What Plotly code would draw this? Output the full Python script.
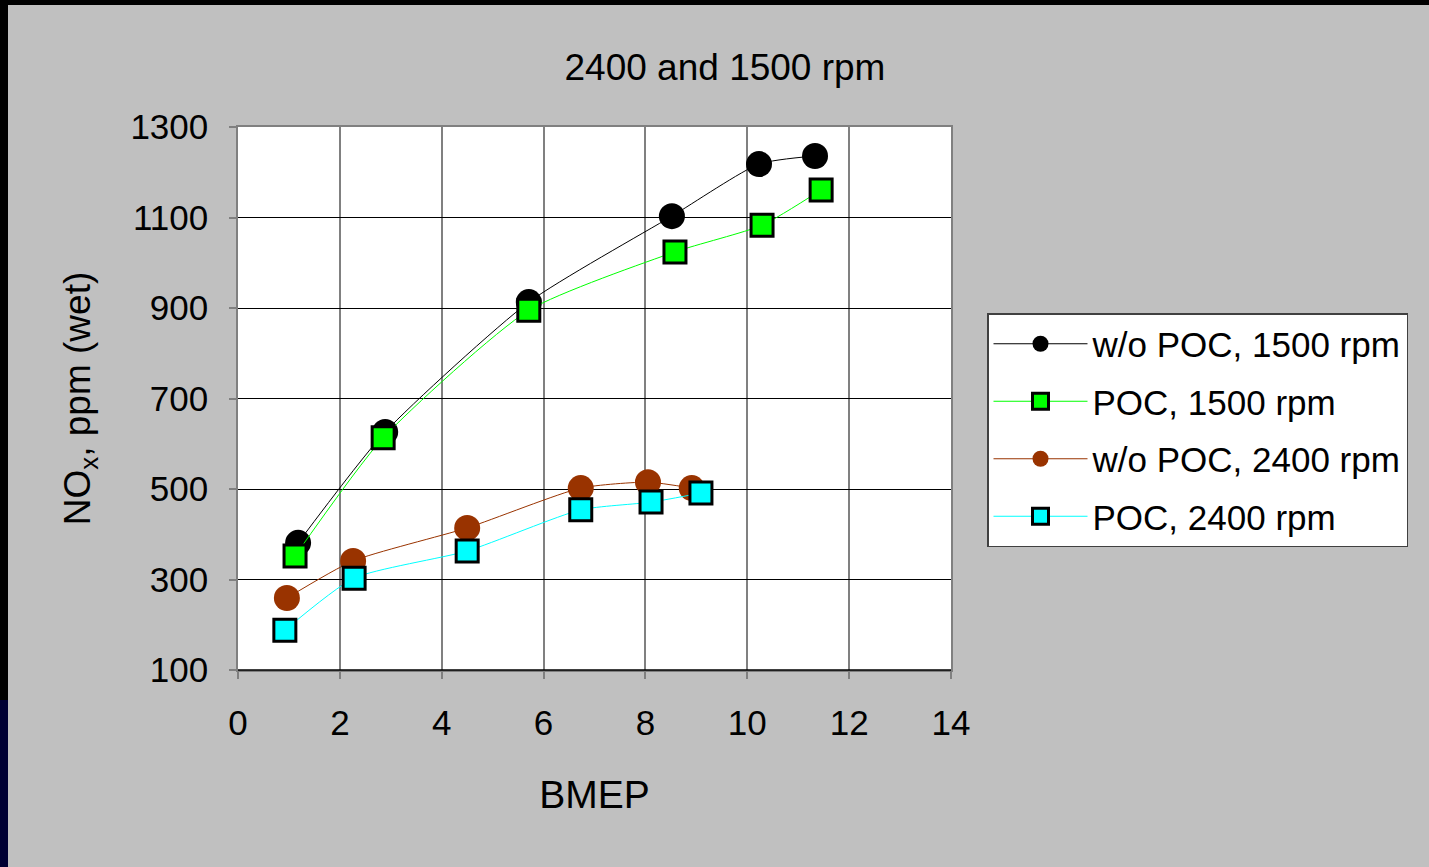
import plotly.graph_objects as go

# Data
x_wo_1500 = [1.18, 2.89, 5.71, 8.52, 10.23, 11.33]
y_wo_1500 = [381, 626, 913, 1103, 1218, 1236]

x_poc_1500 = [1.12, 2.85, 5.71, 8.58, 10.29, 11.45]
y_poc_1500 = [352, 613, 895, 1024, 1083, 1161]

x_wo_2400 = [0.96, 2.26, 4.50, 6.73, 8.05, 8.91]
y_wo_2400 = [259, 341, 414, 502, 515, 502]

x_poc_2400 = [0.92, 2.28, 4.50, 6.73, 8.11, 9.09]
y_poc_2400 = [188, 303, 363, 454, 471, 491]

x_ticks = [0, 2, 4, 6, 8, 10, 12, 14]
y_ticks = [100, 300, 500, 700, 900, 1100, 1300]

FONT = "Liberation Sans, Arial, sans-serif"

fig = go.Figure()

def add(name, xs, ys, color, symbol, size, mline, group):
    fig.add_trace(go.Scatter(
        x=xs, y=ys, name=name, mode="lines+markers",
        legendgroup=group,
        line=dict(color=color, width=1, shape="spline", smoothing=0.6),
        marker=dict(color=color, symbol=symbol, size=size,
                    line=dict(color="black", width=mline)),
    ))

add("w/o POC, 1500 rpm", x_wo_1500, y_wo_1500, "#000000", "circle", 26, 0, "a")
add("POC, 1500 rpm", x_poc_1500, y_poc_1500, "#00FF00", "square", 22, 3, "b")
add("w/o POC, 2400 rpm", x_wo_2400, y_wo_2400, "#993300", "circle", 26, 0, "c")
add("POC, 2400 rpm", x_poc_2400, y_poc_2400, "#00FFFF", "square", 22, 3, "d")

L, R, T, B = 238, 478, 127, 197
W, H = 1429, 867
pw, ph = W - L - R, H - T - B

def px(xp):
    return (xp - L) / pw

def py(yp):
    return (H - B - yp) / ph

shapes = [
    # dark frame strips
    dict(type="rect", xref="paper", yref="paper", x0=px(0), x1=px(8), y0=py(H), y1=py(0),
         fillcolor="black", line=dict(width=0), layer="above"),
    dict(type="rect", xref="paper", yref="paper", x0=px(0), x1=px(8), y0=py(H), y1=py(700),
         fillcolor="#000033", line=dict(width=0), layer="above"),
    dict(type="rect", xref="paper", yref="paper", x0=px(0), x1=px(W), y0=py(5), y1=py(0),
         fillcolor="black", line=dict(width=0), layer="above"),
    # bottom axis line in black
    dict(type="line", xref="paper", yref="paper", x0=0, x1=1, y0=0, y1=0,
         line=dict(color="black", width=1.5), layer="above"),
]

fig.update_layout(
    width=W, height=H,
    paper_bgcolor="#C0C0C0", plot_bgcolor="white",
    margin=dict(l=L, r=R, t=T, b=B, pad=0),
    font=dict(family=FONT, color="black", size=35),
    title=dict(text="2400 and 1500 rpm", x=725 / W, xanchor="center",
               y=1 - 67 / H, yanchor="middle",
               font=dict(size=37, family=FONT, color="black")),
    xaxis=dict(range=[0, 14], tickvals=x_ticks, showgrid=True, gridcolor="#808080",
               gridwidth=1.5, showline=True, linecolor="#808080", linewidth=1.5, mirror=True,
               ticks="outside", ticklen=7, tickcolor="#808080", tickwidth=1.5,
               tickfont=dict(size=35, family=FONT), zeroline=False, ticklabelstandoff=14,
               title=dict(text="BMEP", font=dict(size=39, family=FONT), standoff=40)),
    yaxis=dict(range=[100, 1300], tickvals=y_ticks, showgrid=True, gridcolor="#000000",
               gridwidth=1, showline=True, linecolor="#808080", linewidth=1.5, mirror=True,
               ticks="outside", ticklen=7, tickcolor="#808080", tickwidth=1.5,
               tickfont=dict(size=35, family=FONT), zeroline=False, ticklabelstandoff=14,
               title=dict(text="NO<sub>x</sub>, ppm (wet)", font=dict(size=37, family=FONT),
                          standoff=28)),
    legend=dict(x=px(987), y=py(313), xanchor="left", yanchor="top",
                bgcolor="white", bordercolor="#404040", borderwidth=1.5,
                font=dict(size=35, family=FONT, color="black"),
                traceorder="grouped", tracegroupgap=9, itemwidth=94),
    showlegend=True,
    shapes=shapes,
)

fig.write_html("out.html")
